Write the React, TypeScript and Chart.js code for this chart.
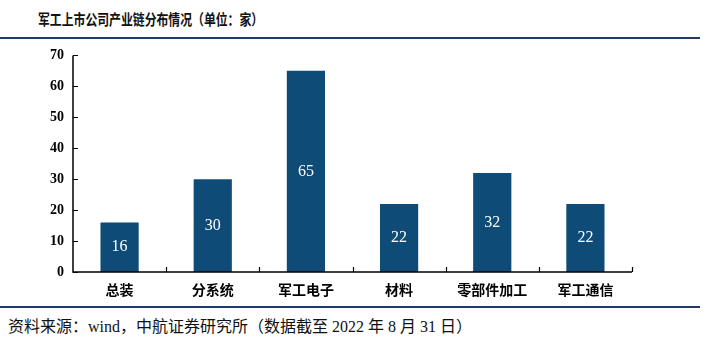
import React, { useEffect, useRef } from "react";
import { Chart, registerables } from "chart.js";

Chart.register(...registerables);

const categories = ["总装", "分系统", "军工电子", "材料", "零部件加工", "军工通信"];
const values = [16, 30, 65, 22, 32, 22];
const yTicks = [0, 10, 20, 30, 40, 50, 60, 70];
const title = "军工上市公司产业链分布情况（单位：家）";
const source = "资料来源：wind，中航证券研究所（数据截至 2022 年 8 月 31 日）";

const BAR = "#0e4c77";
const serif = "'Liberation Serif', 'Noto Sans CJK SC', serif";
const cjk = "'Liberation Serif', 'Noto Sans CJK SC', serif";

const inwardTicks = {
  id: "inwardTicks",
  afterDatasetsDraw(chart: any) {
    const { ctx, chartArea, scales } = chart;
    const x = scales.x;
    const y = scales.y;
    ctx.save();
    ctx.strokeStyle = "#000";
    ctx.lineWidth = 1.5;
    ctx.beginPath();
    ctx.moveTo(chartArea.left, chartArea.top);
    ctx.lineTo(chartArea.left, chartArea.bottom);
    ctx.lineTo(chartArea.right, chartArea.bottom);
    ctx.stroke();
    ctx.lineWidth = 1.2;
    ctx.beginPath();
    for (const v of yTicks) {
      const py = Math.round(y.getPixelForValue(v)) + 0.5;
      ctx.moveTo(chartArea.left, py);
      ctx.lineTo(chartArea.left + 5, py);
    }
    const n = categories.length;
    for (let i = 1; i <= n; i++) {
      const px = i < n
        ? (x.getPixelForValue(i - 1) + x.getPixelForValue(i)) / 2
        : chartArea.right;
      const rx = Math.round(px) + 0.5;
      ctx.moveTo(rx, chartArea.bottom);
      ctx.lineTo(rx, chartArea.bottom - 5);
    }
    ctx.stroke();
    ctx.fillStyle = "#fff";
    ctx.font = `16px ${serif}`;
    ctx.textAlign = "center";
    ctx.textBaseline = "middle";
    const meta = chart.getDatasetMeta(0);
    meta.data.forEach((bar: any, i: number) => {
      const mid = (bar.y + bar.base) / 2;
      ctx.fillText(String(values[i]), bar.x, mid);
    });
    ctx.restore();
  },
};

function BarChart() {
  const ref = useRef<HTMLCanvasElement>(null);
  useEffect(() => {
    if (!ref.current) return;
    const chart = new Chart(ref.current, {
      type: "bar",
      data: {
        labels: categories,
        datasets: [
          {
            data: values,
            backgroundColor: BAR,
            barPercentage: 0.82,
            categoryPercentage: 0.5,
          },
        ],
      },
      options: {
        animation: false,
        responsive: false,
        maintainAspectRatio: false,
        layout: { padding: { top: 1, right: 84, left: 0, bottom: 0 } },
        plugins: { legend: { display: false }, tooltip: { enabled: false } },
        scales: {
          x: {
            grid: { display: false, drawTicks: false },
            border: { display: false },
            ticks: {
              color: "#000",
              font: { family: cjk, size: 14, weight: "bold" },
              padding: 11,
            },
            afterFit(s: any) {
              s.height = 30;
            },
          },
          y: {
            min: 0,
            max: 70,
            grid: { display: false, drawTicks: false },
            border: { display: false },
            ticks: {
              stepSize: 10,
              color: "#000",
              font: { family: serif, size: 14, weight: "bold" },
              padding: 9,
            },
            afterFit(s: any) {
              s.width = 73;
            },
          },
        },
      },
      plugins: [inwardTicks],
    });
    return () => chart.destroy();
  }, []);
  return <canvas ref={ref} width={716} height={264} style={{ position: "absolute", left: 0, top: 38 }} />;
}

export default function App() {
  return (
    <div style={{ position: "fixed", left: 0, top: 0, width: 716, height: 340, background: "#fff", overflow: "hidden" }}>
      <div style={{ position: "absolute", left: 0, top: 37, width: 700, height: 2, background: "#1f3a68" }} />
      <BarChart />
      <div
        style={{
          position: "absolute",
          left: 38,
          top: 8,
          fontFamily: cjk,
          fontWeight: "bold",
          fontSize: 15,
          color: "#111",
          whiteSpace: "nowrap",
          transform: "scaleX(0.79)",
          transformOrigin: "left center",
        }}
      >
        {title}
      </div>
      <div style={{ position: "absolute", left: 0, top: 306, width: 700, height: 2, background: "#1f3a68" }} />
      <div
        style={{
          position: "absolute",
          left: 8,
          top: 313,
          fontFamily: cjk,
          fontSize: 16,
          color: "#111",
          whiteSpace: "nowrap",
        }}
      >
        {source}
      </div>
    </div>
  );
}
